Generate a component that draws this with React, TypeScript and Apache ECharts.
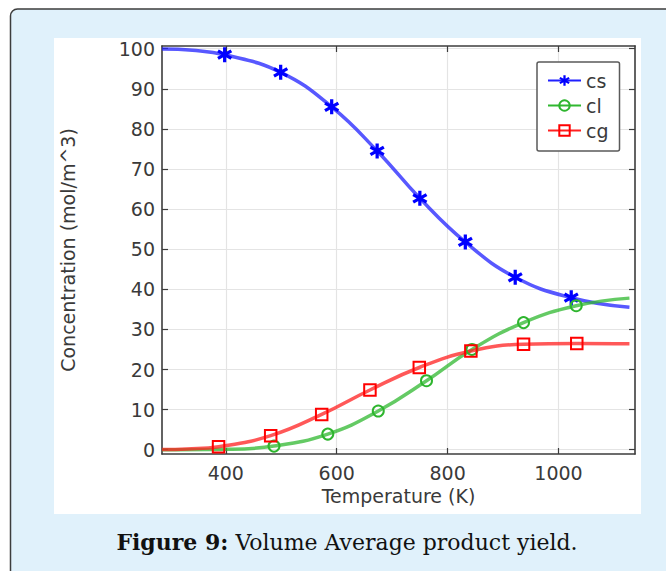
import React, { useEffect, useRef } from "react";
import * as echarts from "echarts";

// ---- data ----
const xTicks = [400, 600, 800, 1000];
const yTicks = [0, 10, 20, 30, 40, 50, 60, 70, 80, 90, 100];

const csT = [285, 340, 398, 499, 591, 673, 750, 832, 922, 1023, 1128];
const csC = [99.9, 99.6, 98.5, 94.1, 85.5, 74.5, 62.7, 51.8, 43.0, 37.9, 35.5];
const csMark = [0, 0, 1, 1, 1, 1, 1, 1, 1, 1, 0];

const clT = [285, 400, 487, 584, 675, 762, 844, 937, 1032, 1128];
const clC = [0, 0.1, 0.9, 3.9, 9.65, 17.2, 25.0, 31.7, 35.9, 37.8];
const clMark = [0, 0, 1, 1, 1, 1, 1, 1, 1, 0];

const cgT = [285, 330, 387, 481, 573, 660, 749, 842, 937, 1033, 1128];
const cgC = [0.05, 0.2, 0.75, 3.5, 8.8, 14.9, 20.5, 24.6, 26.3, 26.5, 26.4];
const cgMark = [0, 0, 1, 1, 1, 1, 1, 1, 1, 1, 0];

const ASTER =
  "path://M7.9 0L12.1 0L12.1 20L7.9 20Z M0.31 6.82L2.41 3.18L19.69 13.18L17.59 16.82Z M2.41 16.82L0.31 13.18L17.59 3.18L19.69 6.82Z";

function build(T: number[], C: number[], M: number[], sym: string) {
  return T.map((t, i) => ({ value: [t, C[i]], symbol: M[i] ? sym : "none" }));
}

const FONT = "DejaVu Sans";
const AXIS_COLOR = "#3c3c3c";
const TEXT_COLOR = "#3a3a3a";
const FS = 19;

export default function App() {
  const ref = useRef<HTMLDivElement>(null);
  useEffect(() => {
    if (!ref.current) return;
    const chart = echarts.init(ref.current, undefined, { renderer: "svg" });
    const xMin = 285;
    const xMax = 1138;
    const yMin = -1.07;
    const yMax = 100.67;
    const fmt = (v: number) => String(v);
    const baseX = {
      type: "value" as const,
      min: xMin,
      max: xMax,
      axisLine: { show: true, onZero: false, lineStyle: { color: AXIS_COLOR, width: 1.6 } },
      axisTick: { show: true, inside: true, length: 6, customValues: xTicks, lineStyle: { color: AXIS_COLOR, width: 1.2 } },
    };
    const baseY = {
      type: "value" as const,
      min: yMin,
      max: yMax,
      axisLine: { show: true, onZero: false, lineStyle: { color: AXIS_COLOR, width: 1.6 } },
      axisTick: { show: true, inside: true, length: 6, customValues: yTicks, lineStyle: { color: AXIS_COLOR, width: 1.2 } },
    };
    const lineCommon = {
      type: "line" as const,
      smooth: 0.45,
      showAllSymbol: true,
      emphasis: { disabled: true },
      z: 3,
    };
    chart.setOption({
      animation: false,
      textStyle: { fontFamily: FONT },
      graphic: [
        {
          type: "rect",
          z: -100,
          silent: true,
          shape: { x: 10.5, y: 9, width: 720, height: 620, r: 7 },
          style: { fill: "#e0f1fb", stroke: "#3d3d3d", lineWidth: 1.5 },
        },
        {
          type: "rect",
          z: -99,
          silent: true,
          shape: { x: 54, y: 38, width: 587, height: 476 },
          style: { fill: "#ffffff" },
        },
        {
          type: "text",
          z: 10,
          silent: true,
          x: 347,
          y: 542,
          style: {
            text: "{b|Figure 9:} Volume Average product yield.",
            fontFamily: "DejaVu Serif",
            fontSize: 22,
            fill: "#111",
            align: "center",
            verticalAlign: "middle",
            rich: { b: { fontWeight: "bold", fontFamily: "DejaVu Serif", fontSize: 22, fill: "#111" } },
          } as any,
        },
      ],
      grid: { left: 162, top: 46, width: 473, height: 408, containLabel: false },
      legend: {
        orient: "vertical",
        left: 537,
        top: 62,
        padding: [9, 11, 11, 10],
        itemWidth: 33,
        itemHeight: 13,
        itemGap: 6,
        backgroundColor: "#ffffff",
        borderColor: "#5a5a5a",
        borderWidth: 1.5,
        borderRadius: 2,
        selectedMode: false,
        lineStyle: { width: 2, opacity: 1 },
        textStyle: { fontFamily: FONT, fontSize: FS, color: TEXT_COLOR, lineHeight: 18 },
        data: ["cs", "cl", "cg"],
      },
      xAxis: [
        {
          ...baseX,
          position: "bottom",
          name: "Temperature (K)",
          nameLocation: "middle",
          nameGap: 29,
          nameTextStyle: { fontFamily: FONT, fontSize: FS, color: TEXT_COLOR },
          axisLabel: { show: true, customValues: xTicks, formatter: fmt, margin: 9, fontFamily: FONT, fontSize: FS, color: TEXT_COLOR },
          splitLine: { show: true, lineStyle: { color: "#e4e4e4", width: 1.2 } },
        },
        {
          ...baseX,
          position: "top",
          axisLabel: { show: false },
          splitLine: { show: false },
        },
      ],
      yAxis: [
        {
          ...baseY,
          position: "left",
          name: "Concentration (mol/m^3)",
          nameLocation: "middle",
          nameGap: 85,
          nameTextStyle: { fontFamily: FONT, fontSize: FS, color: TEXT_COLOR },
          axisLabel: { show: true, customValues: yTicks, formatter: fmt, margin: 7, fontFamily: FONT, fontSize: FS, color: TEXT_COLOR },
          splitLine: { show: true, lineStyle: { color: "#e4e4e4", width: 1.2 } },
        },
        {
          ...baseY,
          position: "right",
          axisLabel: { show: false },
          splitLine: { show: false },
        },
      ],
      series: [
        {
          ...lineCommon,
          name: "cs",
          data: build(csT, csC, csMark, ASTER),
          symbol: ASTER,
          symbolSize: 15,
          lineStyle: { color: "#2020ff", width: 3.5, opacity: 0.75 },
          itemStyle: { color: "#0000ff" },
        },
        {
          ...lineCommon,
          name: "cl",
          data: build(clT, clC, clMark, "circle"),
          symbol: "circle",
          symbolSize: 11,
          lineStyle: { color: "#30b830", width: 3.5, opacity: 0.75 },
          itemStyle: { color: "rgba(0,0,0,0)", borderColor: "#2eb52e", borderWidth: 2 },
        },
        {
          ...lineCommon,
          name: "cg",
          data: build(cgT, cgC, cgMark, "rect"),
          symbol: "rect",
          symbolSize: 11.5,
          lineStyle: { color: "#ff2020", width: 3.5, opacity: 0.75 },
          itemStyle: { color: "rgba(0,0,0,0)", borderColor: "#ff0000", borderWidth: 2 },
        },
      ],
    });
    return () => chart.dispose();
  }, []);
  return (
    <div
      ref={ref}
      style={{ position: "absolute", left: 0, top: 0, width: 666, height: 571 }}
    />
  );
}
